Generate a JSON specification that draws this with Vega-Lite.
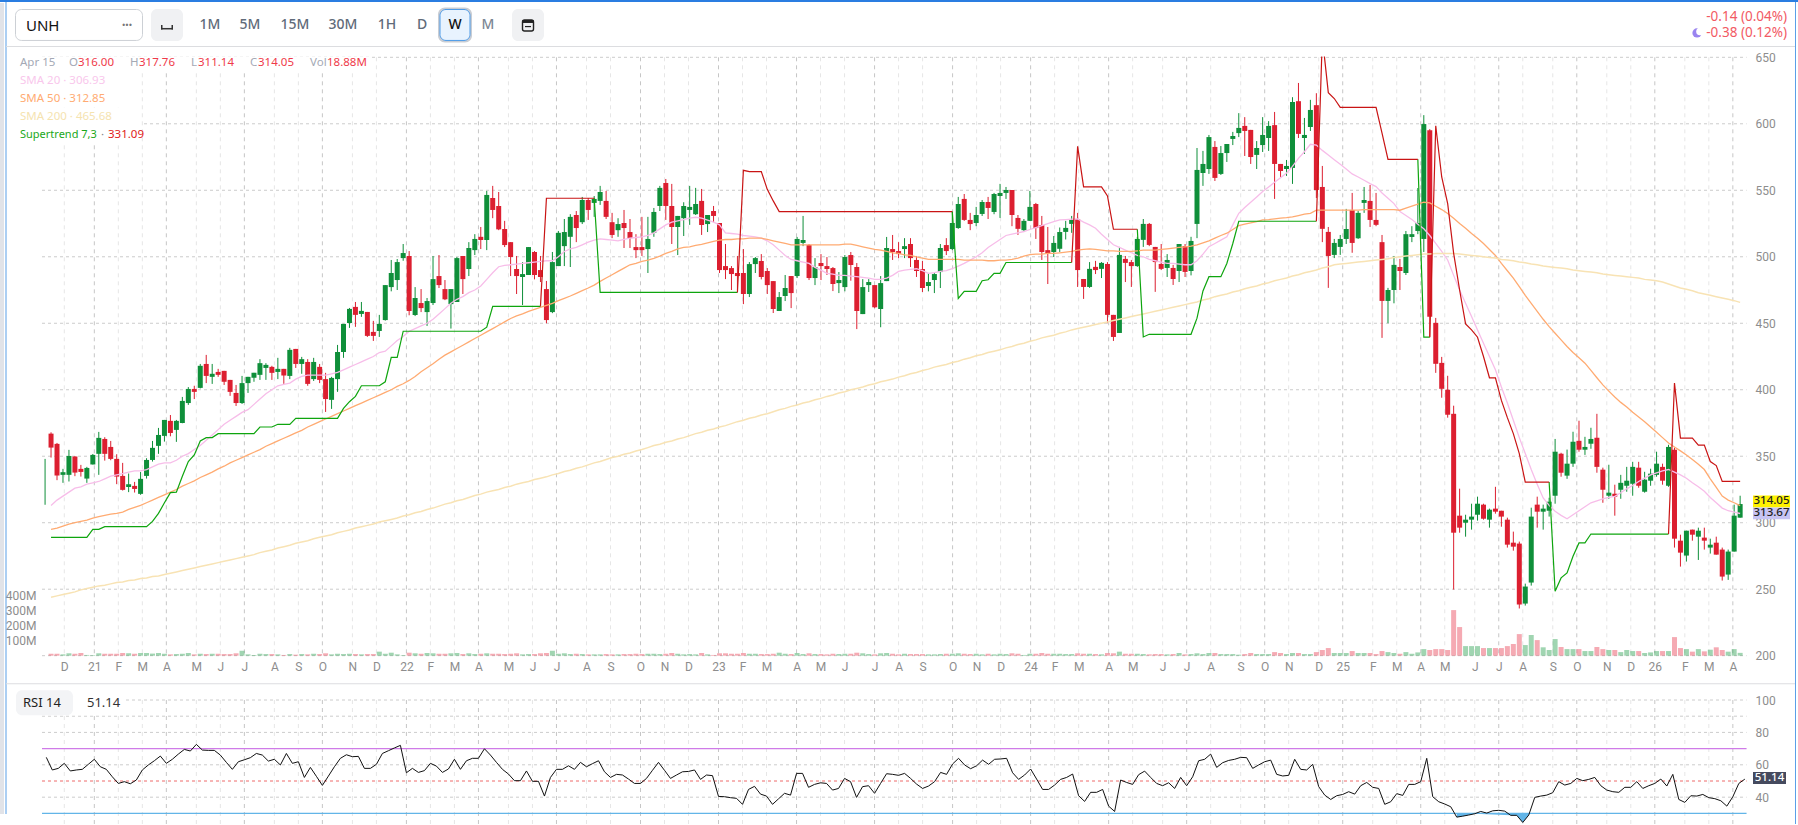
{"$schema":"https://vega.github.io/schema/vega-lite/v6.json","autosize":{"type":"fit","contains":"padding"},"padding":0,"width":1798,"height":825,"background":"#ffffff",
"config":{"view":{"stroke":null},"style":{
"lg":{"align":"left","baseline":"middle","font":"Noto Sans","fontSize":11.5},
"tool":{"align":"center","baseline":"middle","font":"Noto Sans","fontSize":14,"fontWeight":500},
"chg":{"align":"right","baseline":"middle","font":"Noto Sans","fontSize":13.5},
"tag":{"align":"center","baseline":"middle","font":"Noto Sans","fontSize":11.5,"fontWeight":500}}},
"datasets":{"one":[{}],
"prices":[{"p":200},{"p":250},{"p":300},{"p":350},{"p":400},{"p":450},{"p":500},{"p":550},{"p":600},{"p":650}],
"ticks":[{"d":"2020-11-30"},{"d":"2021-01-04"},{"d":"2021-02-01"},{"d":"2021-03-01"},{"d":"2021-03-29"},{"d":"2021-05-03"},{"d":"2021-05-31"},{"d":"2021-06-28"},{"d":"2021-08-02"},{"d":"2021-08-30"},{"d":"2021-09-27"},{"d":"2021-11-01"},{"d":"2021-11-29"},{"d":"2022-01-03"},{"d":"2022-01-31"},{"d":"2022-02-28"},{"d":"2022-03-28"},{"d":"2022-05-02"},{"d":"2022-05-30"},{"d":"2022-06-27"},{"d":"2022-08-01"},{"d":"2022-08-29"},{"d":"2022-10-03"},{"d":"2022-10-31"},{"d":"2022-11-28"},{"d":"2023-01-02"},{"d":"2023-01-30"},{"d":"2023-02-27"},{"d":"2023-04-03"},{"d":"2023-05-01"},{"d":"2023-05-29"},{"d":"2023-07-03"},{"d":"2023-07-31"},{"d":"2023-08-28"},{"d":"2023-10-02"},{"d":"2023-10-30"},{"d":"2023-11-27"},{"d":"2024-01-01"},{"d":"2024-01-29"},{"d":"2024-02-26"},{"d":"2024-04-01"},{"d":"2024-04-29"},{"d":"2024-06-03"},{"d":"2024-07-01"},{"d":"2024-07-29"},{"d":"2024-09-02"},{"d":"2024-09-30"},{"d":"2024-10-28"},{"d":"2024-12-02"},{"d":"2024-12-30"},{"d":"2025-02-03"},{"d":"2025-03-03"},{"d":"2025-03-31"},{"d":"2025-04-28"},{"d":"2025-06-02"},{"d":"2025-06-30"},{"d":"2025-07-28"},{"d":"2025-09-01"},{"d":"2025-09-29"},{"d":"2025-11-03"},{"d":"2025-12-01"},{"d":"2025-12-29"},{"d":"2026-02-02"},{"d":"2026-03-02"},{"d":"2026-03-30"}],
"weeks":[{"d":"2020-11-02","h":348,"l":313.5},
{"d":"2020-11-09","o":367,"h":368,"l":349,"c":356.5,"v":13,"a":313,"b":295,"e":244,"up":289,"r":64.6},
{"d":"2020-11-16","o":359.3,"h":360,"l":332,"c":335.5,"v":13,"a":317,"b":296,"e":245,"up":289,"r":56.8},
{"d":"2020-11-23","o":336,"h":340.5,"l":330,"c":338,"v":9,"a":320,"b":297.5,"e":246,"up":289,"r":57.8},
{"d":"2020-11-30","o":336,"h":354.8,"l":331,"c":350.2,"v":16,"a":323,"b":299,"e":247,"up":289,"r":60.9},
{"d":"2020-12-07","o":349.8,"h":350,"l":335,"c":337.7,"v":13,"a":326,"b":300,"e":248,"up":289,"r":56.2},
{"d":"2020-12-14","o":340.5,"h":343.5,"l":334.7,"c":338.2,"v":18,"a":327,"b":301,"e":249.5,"up":289,"r":56.8},
{"d":"2020-12-21","o":333.2,"h":342,"l":330,"c":341.2,"v":5,"a":329,"b":302,"e":250.5,"up":289,"r":57.2},
{"d":"2020-12-28","o":343.8,"h":351.7,"l":343.8,"c":351,"v":4,"a":330,"b":303.5,"e":251.5,"up":295,"r":60.3},
{"d":"2021-01-04","o":351.8,"h":368.3,"l":336,"c":363.8,"v":16,"a":331,"b":304.6,"e":252.5,"up":295,"r":63.4},
{"d":"2021-01-11","o":363,"h":364.3,"l":346.7,"c":351.8,"v":13,"a":333,"b":305.5,"e":253,"up":297,"r":58.8},
{"d":"2021-01-18","o":357,"h":361.5,"l":347,"c":348,"v":13,"a":335,"b":306.5,"e":254,"up":297,"r":57.2},
{"d":"2021-01-25","o":348,"h":351.5,"l":329,"c":334.7,"v":13,"a":336,"b":307,"e":255,"up":297,"r":52.6},
{"d":"2021-02-01","o":335.2,"h":345,"l":324.2,"c":324.7,"v":18,"a":337,"b":308,"e":255.5,"up":297,"r":48.5},
{"d":"2021-02-08","o":326.9,"h":337,"l":323,"c":329,"v":16,"a":338,"b":310,"e":256.5,"up":297,"r":49.6},
{"d":"2021-02-15","o":327.7,"h":330.7,"l":322.7,"c":325.4,"v":13,"a":339,"b":311.5,"e":257,"up":297,"r":48.3},
{"d":"2021-02-22","o":321.7,"h":338.2,"l":321,"c":333,"v":18,"a":339,"b":313,"e":258,"up":297,"r":50.6},
{"d":"2021-03-01","o":335.2,"h":348.5,"l":333.2,"c":347.2,"v":18,"a":340,"b":315,"e":258.5,"up":297,"r":56.8},
{"d":"2021-03-08","o":347.2,"h":361.5,"l":346,"c":356.3,"v":14,"a":342,"b":317,"e":259.5,"up":301,"r":59.9},
{"d":"2021-03-15","o":357.8,"h":371.3,"l":351.8,"c":366,"v":18,"a":344,"b":319,"e":260,"up":307,"r":62.5},
{"d":"2021-03-22","o":365.3,"h":377.3,"l":361,"c":377.3,"v":13,"a":345,"b":321,"e":261,"up":315,"r":65.4},
{"d":"2021-03-29","o":376.6,"h":381,"l":365,"c":367.5,"v":9,"a":345,"b":323,"e":262,"up":322.6,"r":60.9},
{"d":"2021-04-05","o":369.8,"h":377.3,"l":360.8,"c":376.6,"v":11,"a":347,"b":325,"e":263,"up":323,"r":63.4},
{"d":"2021-04-12","o":375,"h":394.6,"l":374.8,"c":391.6,"v":13,"a":350,"b":327.5,"e":264,"up":335,"r":66.6},
{"d":"2021-04-19","o":390,"h":402,"l":388.6,"c":400.6,"v":18,"a":352,"b":329.5,"e":265,"up":346,"r":69.5},
{"d":"2021-04-26","o":400.6,"h":403,"l":393,"c":398.4,"v":9,"a":355,"b":331.5,"e":266,"up":351,"r":68.5},
{"d":"2021-05-03","o":401.4,"h":419.4,"l":401,"c":418,"v":13,"a":358,"b":334,"e":267,"up":361.5,"r":72.6},
{"d":"2021-05-10","o":419.4,"h":426.2,"l":405,"c":410.4,"v":11,"a":362,"b":336,"e":268,"up":364,"r":69.1},
{"d":"2021-05-17","o":409.7,"h":419.4,"l":404.4,"c":412,"v":13,"a":366,"b":338,"e":269,"up":364,"r":68.9},
{"d":"2021-05-24","o":413.4,"h":415.7,"l":409.7,"c":411.2,"v":13,"a":370,"b":340.5,"e":270,"up":367,"r":68.9},
{"d":"2021-05-31","o":414.2,"h":414.2,"l":403.6,"c":406,"v":11,"a":374,"b":342.5,"e":271,"up":367,"r":66},
{"d":"2021-06-07","o":407.4,"h":407.4,"l":395.4,"c":398.4,"v":11,"a":377,"b":345,"e":272,"up":367,"r":61.5},
{"d":"2021-06-14","o":397.6,"h":403.6,"l":387.8,"c":390,"v":16,"a":380,"b":347,"e":273,"up":367,"r":57.2},
{"d":"2021-06-21","o":390,"h":410.4,"l":389.3,"c":405,"v":33,"a":383,"b":349,"e":274,"up":367,"r":61.9},
{"d":"2021-06-28","o":405,"h":409.7,"l":397.6,"c":409.7,"v":9,"a":385,"b":351,"e":275,"up":367,"r":63.1},
{"d":"2021-07-05","o":409,"h":412.7,"l":406,"c":412.7,"v":5,"a":389,"b":353,"e":276,"up":367,"r":64.4},
{"d":"2021-07-12","o":411.2,"h":423,"l":407.4,"c":420,"v":13,"a":393,"b":355,"e":277.5,"up":372,"r":67},
{"d":"2021-07-19","o":416.4,"h":420,"l":407.4,"c":418.7,"v":11,"a":397,"b":357.5,"e":278.5,"up":372,"r":66},
{"d":"2021-07-26","o":417.2,"h":418,"l":407.4,"c":412.7,"v":11,"a":400,"b":359.5,"e":279.5,"up":372,"r":62.3},
{"d":"2021-08-02","o":413.4,"h":424,"l":408,"c":415.7,"v":9,"a":403,"b":361.5,"e":281,"up":374,"r":63.4},
{"d":"2021-08-09","o":415.7,"h":415.7,"l":404.4,"c":410.7,"v":5,"a":404,"b":363.5,"e":282,"up":374,"r":59.9},
{"d":"2021-08-16","o":410.4,"h":431.5,"l":408,"c":430,"v":11,"a":405,"b":365.5,"e":283,"up":374,"r":67},
{"d":"2021-08-23","o":430.7,"h":430.7,"l":416.4,"c":419.4,"v":7,"a":408,"b":367.5,"e":284.5,"up":378.5,"r":60.9},
{"d":"2021-08-30","o":419.4,"h":424.7,"l":412,"c":423,"v":11,"a":410,"b":369.5,"e":285.5,"up":378.5,"r":61.9},
{"d":"2021-09-06","o":420.9,"h":423,"l":403,"c":404.4,"v":9,"a":411,"b":372,"e":286.5,"up":378.5,"r":52.2},
{"d":"2021-09-13","o":408,"h":424,"l":406.6,"c":420.9,"v":13,"a":411,"b":374,"e":288,"up":378.5,"r":58.4},
{"d":"2021-09-20","o":417.2,"h":419.4,"l":405,"c":407.4,"v":11,"a":411,"b":376,"e":289,"up":378.5,"r":52.9},
{"d":"2021-09-27","o":408,"h":412.7,"l":383.3,"c":393,"v":16,"a":411,"b":378,"e":290,"up":378.5,"r":47.3},
{"d":"2021-10-04","o":392.4,"h":409.7,"l":385.6,"c":408.9,"v":9,"a":412,"b":380,"e":291,"up":378.5,"r":53},
{"d":"2021-10-11","o":408,"h":433.7,"l":398.4,"c":428.4,"v":13,"a":413,"b":382,"e":292.5,"up":378.5,"r":58.8},
{"d":"2021-10-18","o":428.4,"h":449.5,"l":424,"c":449.5,"v":11,"a":415,"b":384,"e":293.5,"up":386,"r":64},
{"d":"2021-10-25","o":450.2,"h":461.5,"l":446.5,"c":460.8,"v":13,"a":417,"b":386,"e":294.5,"up":391,"r":66.2},
{"d":"2021-11-01","o":462.3,"h":466,"l":447.3,"c":456.3,"v":11,"a":419,"b":388,"e":296,"up":395,"r":65},
{"d":"2021-11-08","o":457,"h":466,"l":454.8,"c":459.3,"v":9,"a":421,"b":390,"e":297,"up":403,"r":65.2},
{"d":"2021-11-15","o":458.5,"h":458.5,"l":439.7,"c":440.5,"v":11,"a":423,"b":392,"e":298,"up":403,"r":57.8},
{"d":"2021-11-22","o":443.5,"h":451.8,"l":436.7,"c":440.5,"v":11,"a":425,"b":394,"e":299,"up":403,"r":57.8},
{"d":"2021-11-29","o":444.2,"h":456.3,"l":439.7,"c":449.5,"v":27,"a":428,"b":396,"e":300.5,"up":403,"r":60.3},
{"d":"2021-12-06","o":452.4,"h":478.7,"l":452,"c":478.7,"v":13,"a":429,"b":398,"e":301.5,"up":406,"r":67},
{"d":"2021-12-13","o":477.2,"h":497.6,"l":474,"c":487.8,"v":20,"a":433,"b":400,"e":302.5,"up":424.4,"r":68.7},
{"d":"2021-12-20","o":482.5,"h":498.3,"l":475,"c":496,"v":9,"a":437,"b":402.5,"e":303.5,"up":424.4,"r":70.4},
{"d":"2021-12-27","o":499,"h":509.6,"l":497,"c":502.8,"v":4,"a":440,"b":404.5,"e":305,"up":444,"r":72},
{"d":"2022-01-03","o":500.6,"h":504.3,"l":456,"c":459.2,"v":20,"a":444,"b":407,"e":306,"up":444,"r":55.1},
{"d":"2022-01-10","o":456.2,"h":477.2,"l":455.4,"c":469,"v":16,"a":446,"b":410,"e":307.5,"up":444,"r":57.8},
{"d":"2022-01-17","o":465.2,"h":475.7,"l":458.4,"c":461.4,"v":13,"a":448,"b":413.5,"e":308.5,"up":444,"r":55.3},
{"d":"2022-01-24","o":458.4,"h":469,"l":448,"c":466.7,"v":18,"a":450,"b":416.5,"e":310,"up":444,"r":56.4},
{"d":"2022-01-31","o":465.2,"h":500.6,"l":463.7,"c":483.2,"v":16,"a":453,"b":419.5,"e":311,"up":444,"r":60.9},
{"d":"2022-02-07","o":485.5,"h":501.3,"l":476.5,"c":478.7,"v":13,"a":457,"b":423,"e":312.5,"up":444,"r":59.2},
{"d":"2022-02-14","o":475.7,"h":482.5,"l":467.4,"c":468,"v":13,"a":461,"b":426,"e":314,"up":444,"r":55.3},
{"d":"2022-02-21","o":464.4,"h":475.7,"l":446,"c":475.7,"v":16,"a":465,"b":428.5,"e":315,"up":444,"r":57.4},
{"d":"2022-02-28","o":466,"h":499.8,"l":466,"c":499,"v":18,"a":468,"b":431,"e":316.5,"up":444,"r":63.4},
{"d":"2022-03-07","o":500.6,"h":500.6,"l":472,"c":483.2,"v":11,"a":470,"b":433.5,"e":317.5,"up":444,"r":57.2},
{"d":"2022-03-14","o":490.8,"h":511,"l":485.5,"c":506.6,"v":16,"a":473,"b":436,"e":319,"up":444,"r":62.5},
{"d":"2022-03-21","o":505,"h":517,"l":501.3,"c":513.4,"v":11,"a":475,"b":438.5,"e":320.5,"up":444,"r":64},
{"d":"2022-03-28","o":515,"h":522.4,"l":505.8,"c":512.6,"v":13,"a":478,"b":441,"e":321.5,"up":444,"r":64},
{"d":"2022-04-04","o":512.6,"h":549.5,"l":505,"c":546.5,"v":16,"a":483,"b":443.5,"e":323,"up":447,"r":69.9},
{"d":"2022-04-11","o":544.2,"h":553.3,"l":529,"c":535.2,"v":13,"a":488,"b":446,"e":324,"up":462.7,"r":66},
{"d":"2022-04-18","o":538.2,"h":548.7,"l":520,"c":520.6,"v":13,"a":492.5,"b":448.5,"e":325,"up":462.7,"r":61.5},
{"d":"2022-04-25","o":520.9,"h":527,"l":507.3,"c":508.8,"v":11,"a":493.5,"b":451,"e":326.5,"up":462.7,"r":57.2},
{"d":"2022-05-02","o":511,"h":511,"l":485.5,"c":499.8,"v":13,"a":494,"b":453.6,"e":327.5,"up":462.7,"r":54.3},
{"d":"2022-05-09","o":490.8,"h":500.6,"l":472,"c":485.5,"v":16,"a":494.5,"b":455.5,"e":329,"up":462.7,"r":50.2},
{"d":"2022-05-16","o":484.8,"h":496,"l":463.7,"c":487,"v":9,"a":495,"b":457,"e":330,"up":462.7,"r":50.2},
{"d":"2022-05-23","o":486.3,"h":507.3,"l":486.3,"c":507.3,"v":11,"a":495.5,"b":459,"e":331,"up":462.7,"r":56.2},
{"d":"2022-05-30","o":503.6,"h":504.3,"l":483,"c":486.3,"v":11,"a":496,"b":460.5,"e":332.5,"up":462.7,"r":49.8},
{"d":"2022-06-06","o":490,"h":500.6,"l":481,"c":484.8,"v":16,"a":496.5,"b":462,"e":333.5,"up":462.7,"dn":462.7,"r":49.8},
{"d":"2022-06-13","o":475.7,"h":481.8,"l":450,"c":452.4,"v":18,"a":497,"b":463.5,"e":334.5,"dn":544,"r":40.7},
{"d":"2022-06-20","o":458.4,"h":503.6,"l":457.6,"c":496,"v":33,"a":497,"b":465,"e":336,"dn":544,"r":52.2},
{"d":"2022-06-27","o":493,"h":519.4,"l":493,"c":518,"v":13,"a":500,"b":467,"e":337,"dn":544,"r":57.2},
{"d":"2022-07-04","o":508,"h":528.4,"l":493,"c":518.6,"v":16,"a":504,"b":468.7,"e":338.5,"dn":544,"r":57.2},
{"d":"2022-07-11","o":515,"h":532,"l":492.3,"c":530,"v":11,"a":506,"b":470.5,"e":339.5,"dn":544,"r":59.4},
{"d":"2022-07-18","o":531.4,"h":534.4,"l":511,"c":521.6,"v":13,"a":507,"b":472.5,"e":341,"dn":544,"r":57.2},
{"d":"2022-07-25","o":526,"h":545,"l":524.6,"c":542.7,"v":11,"a":509,"b":474.5,"e":342,"dn":544,"r":61.5},
{"d":"2022-08-01","o":542.7,"h":544.2,"l":527.7,"c":535.2,"v":9,"a":511,"b":476.5,"e":343.5,"dn":544,"r":58.8},
{"d":"2022-08-08","o":540.5,"h":545.7,"l":530,"c":543.5,"v":9,"a":512.5,"b":478.7,"e":345,"dn":544,"up":544,"r":60.7},
{"d":"2022-08-15","o":542,"h":553.3,"l":539,"c":548.7,"v":9,"a":513.5,"b":481.5,"e":346,"up":473.2,"r":62.5},
{"d":"2022-08-22","o":542,"h":549.5,"l":528.4,"c":530,"v":11,"a":513,"b":484,"e":347.5,"up":473.2,"r":55.7},
{"d":"2022-08-29","o":526,"h":533,"l":514,"c":516.4,"v":9,"a":512.5,"b":486.5,"e":349,"up":473.2,"r":52.2},
{"d":"2022-09-05","o":520,"h":529,"l":515,"c":524.6,"v":9,"a":512,"b":489,"e":350,"up":473.2,"r":54.1},
{"d":"2022-09-12","o":525.4,"h":535.2,"l":506.6,"c":521.6,"v":11,"a":513,"b":491.5,"e":351.5,"up":473.2,"r":53.7},
{"d":"2022-09-19","o":518.6,"h":528.4,"l":506.6,"c":514,"v":11,"a":514,"b":494,"e":352.5,"up":473.2,"r":51.2},
{"d":"2022-09-26","o":507.3,"h":517,"l":499,"c":505,"v":13,"a":514.5,"b":495,"e":354,"up":473.2,"r":48.5},
{"d":"2022-10-03","o":507.3,"h":530,"l":500.6,"c":505,"v":11,"a":515,"b":496.5,"e":355,"up":473.2,"r":48.5},
{"d":"2022-10-10","o":505.8,"h":530,"l":487.8,"c":513.4,"v":13,"a":516,"b":497.5,"e":356.5,"up":473.2,"r":51.6},
{"d":"2022-10-17","o":518,"h":536.7,"l":515,"c":533.7,"v":13,"a":518,"b":498.8,"e":358,"up":473.2,"r":56.6},
{"d":"2022-10-24","o":538.2,"h":553.3,"l":534.4,"c":551.8,"v":11,"a":521,"b":500.5,"e":359,"up":473.2,"r":61.5},
{"d":"2022-10-31","o":555.5,"h":558.5,"l":527.7,"c":538.2,"v":13,"a":524,"b":502.5,"e":360.5,"up":473.2,"r":56.6},
{"d":"2022-11-07","o":538.2,"h":554.8,"l":509.6,"c":522.4,"v":18,"a":526,"b":504,"e":361.5,"up":473.2,"r":51.6},
{"d":"2022-11-14","o":522.4,"h":530.7,"l":501.3,"c":530.7,"v":13,"a":527,"b":506,"e":363,"up":473.2,"r":53.7},
{"d":"2022-11-21","o":529,"h":541,"l":515.6,"c":538.2,"v":9,"a":528,"b":507,"e":364,"up":473.2,"r":55.7},
{"d":"2022-11-28","o":535.2,"h":553.3,"l":524,"c":537.5,"v":11,"a":529,"b":507.5,"e":365.5,"up":473.2,"r":55.9},
{"d":"2022-12-05","o":532,"h":551.8,"l":531.4,"c":539.7,"v":9,"a":529.7,"b":508.5,"e":367,"up":473.2,"r":56.8},
{"d":"2022-12-12","o":542,"h":551,"l":516.4,"c":523.9,"v":18,"a":529,"b":509.3,"e":368,"up":473.2,"r":51},
{"d":"2022-12-19","o":524.6,"h":531.4,"l":518.6,"c":531.4,"v":9,"a":527.5,"b":510.5,"e":369.5,"up":473.2,"r":53.7},
{"d":"2022-12-26","o":534.4,"h":538.2,"l":526,"c":530.7,"v":5,"a":526,"b":511.5,"e":370.5,"up":473.2,"r":53.3},
{"d":"2023-01-02","o":525.4,"h":525.4,"l":487.8,"c":490,"v":16,"a":524,"b":512.5,"e":372,"up":473.2,"r":40.5},
{"d":"2023-01-09","o":493,"h":509.6,"l":483.2,"c":490,"v":16,"a":518,"b":513,"e":373,"up":473.2,"r":40.3},
{"d":"2023-01-16","o":491.5,"h":493,"l":475,"c":487,"v":13,"a":517.5,"b":513,"e":374.5,"up":473.2,"r":39.7},
{"d":"2023-01-23","o":487.8,"h":500.6,"l":475,"c":485.5,"v":13,"a":517,"b":513.5,"e":376,"up":473.2,"dn":473.2,"r":39.3},
{"d":"2023-01-30","o":487.8,"h":505.8,"l":464.4,"c":472,"v":18,"a":516,"b":513.5,"e":377,"dn":565,"r":35.6},
{"d":"2023-02-06","o":472,"h":496,"l":469.7,"c":494.5,"v":13,"a":515.5,"b":514,"e":378.5,"dn":564,"r":44.8},
{"d":"2023-02-13","o":494.5,"h":499.8,"l":487.8,"c":499,"v":13,"a":515,"b":514,"e":379.5,"dn":564,"r":46.7},
{"d":"2023-02-20","o":496.8,"h":502,"l":483,"c":484.8,"v":11,"a":514,"b":514,"e":381,"dn":564,"r":41.9},
{"d":"2023-02-27","o":489.3,"h":491.5,"l":472,"c":478.7,"v":11,"a":512,"b":513,"e":382,"dn":550.7,"r":40.7},
{"d":"2023-03-06","o":481.7,"h":481.7,"l":457.7,"c":460.7,"v":13,"a":509,"b":512,"e":383.5,"dn":542,"r":35.6},
{"d":"2023-03-13","o":459.2,"h":473.5,"l":459.2,"c":469.7,"v":20,"a":505,"b":511,"e":385,"dn":534,"r":39},
{"d":"2023-03-20","o":470.5,"h":486.3,"l":466.7,"c":476.5,"v":13,"a":501,"b":510,"e":386,"dn":534,"r":42.4},
{"d":"2023-03-27","o":485.5,"h":485.5,"l":461.4,"c":472.7,"v":11,"a":498,"b":509,"e":387.5,"dn":534,"r":41.3},
{"d":"2023-04-03","o":485.5,"h":514.9,"l":484,"c":513.4,"v":18,"a":497,"b":509,"e":388.5,"dn":534,"r":54.7},
{"d":"2023-04-10","o":510.4,"h":530.7,"l":508,"c":512.6,"v":11,"a":496,"b":509,"e":390,"dn":534,"r":54.7},
{"d":"2023-04-17","o":508.8,"h":509.6,"l":482.5,"c":484,"v":16,"a":495,"b":509,"e":391,"dn":534,"r":46.1},
{"d":"2023-04-24","o":484,"h":499,"l":478.7,"c":492.3,"v":11,"a":492,"b":509,"e":392.5,"dn":534,"r":47.9},
{"d":"2023-05-01","o":495.3,"h":502,"l":482.5,"c":493,"v":11,"a":490,"b":509,"e":393.5,"dn":534,"r":48.9},
{"d":"2023-05-08","o":493,"h":499.8,"l":486.3,"c":490.8,"v":9,"a":487.5,"b":509,"e":395,"dn":534,"r":48.5},
{"d":"2023-05-15","o":491.5,"h":492.3,"l":474.2,"c":479.5,"v":13,"a":487,"b":509,"e":396,"dn":534,"r":44.4},
{"d":"2023-05-22","o":480.2,"h":488.5,"l":472.7,"c":482.5,"v":11,"a":486,"b":509,"e":397.5,"dn":534,"r":45.4},
{"d":"2023-05-29","o":477.2,"h":501.3,"l":474,"c":499.8,"v":13,"a":486,"b":509.5,"e":398.5,"dn":534,"r":51.6},
{"d":"2023-06-05","o":501.3,"h":503.6,"l":482,"c":493.8,"v":13,"a":485.5,"b":509.5,"e":400,"dn":534,"r":49.6},
{"d":"2023-06-12","o":492.3,"h":495.3,"l":445.6,"c":459.2,"v":20,"a":485,"b":508.5,"e":401,"dn":534,"r":39.9},
{"d":"2023-06-19","o":456.9,"h":483.2,"l":456.9,"c":477.2,"v":16,"a":484.5,"b":507.5,"e":402,"dn":534,"r":46.5},
{"d":"2023-06-26","o":478.7,"h":483.2,"l":473.5,"c":481,"v":11,"a":484,"b":506.5,"e":403.5,"dn":534,"r":47.1},
{"d":"2023-07-03","o":478.7,"h":478.7,"l":461.4,"c":462,"v":9,"a":483,"b":505.5,"e":404.5,"dn":534,"r":42.4},
{"d":"2023-07-10","o":460.7,"h":485.5,"l":447,"c":480.2,"v":16,"a":483,"b":505,"e":406,"dn":534,"r":48.5},
{"d":"2023-07-17","o":481.7,"h":514.9,"l":481.7,"c":506.6,"v":18,"a":484,"b":504,"e":407,"dn":534,"r":54.5},
{"d":"2023-07-24","o":505.8,"h":516.4,"l":497.6,"c":503.6,"v":13,"a":486,"b":503,"e":408,"dn":534,"r":54.1},
{"d":"2023-07-31","o":504.3,"h":511,"l":499,"c":502,"v":9,"a":489,"b":502.5,"e":409.5,"dn":534,"r":53.5},
{"d":"2023-08-07","o":505.8,"h":514,"l":499,"c":508,"v":13,"a":490,"b":501.5,"e":410.5,"dn":534,"r":54.7},
{"d":"2023-08-14","o":509.6,"h":514,"l":492.3,"c":499,"v":11,"a":490.5,"b":501,"e":412,"dn":534,"r":51.6},
{"d":"2023-08-21","o":497.6,"h":500.6,"l":484.8,"c":489.3,"v":11,"a":491,"b":500,"e":413,"dn":534,"r":48.1},
{"d":"2023-08-28","o":490.8,"h":496.8,"l":473.5,"c":476.5,"v":11,"a":489.5,"b":499,"e":414.5,"dn":534,"r":45.4},
{"d":"2023-09-04","o":478,"h":487.8,"l":474,"c":481,"v":9,"a":487.5,"b":498,"e":415.5,"dn":534,"r":46.9},
{"d":"2023-09-11","o":482.5,"h":487.8,"l":472.7,"c":487,"v":9,"a":488,"b":498,"e":417,"dn":534,"r":49.6},
{"d":"2023-09-18","o":488.5,"h":509.6,"l":476.5,"c":506.6,"v":11,"a":489,"b":498,"e":418,"dn":534,"r":55.3},
{"d":"2023-09-25","o":508.8,"h":514,"l":501.3,"c":504.3,"v":13,"a":489.5,"b":498,"e":419,"dn":534,"r":54.1},
{"d":"2023-10-02","o":505.8,"h":533.7,"l":505,"c":525.4,"v":13,"a":491,"b":498,"e":420.5,"dn":534,"up":534,"r":60.5},
{"d":"2023-10-09","o":521.6,"h":545,"l":521,"c":539.7,"v":16,"a":493,"b":498,"e":421.5,"up":468.7,"r":64},
{"d":"2023-10-16","o":543.5,"h":547.2,"l":527,"c":527.7,"v":13,"a":495,"b":497.5,"e":423,"up":474,"r":59.9},
{"d":"2023-10-23","o":527.7,"h":533,"l":520,"c":524.6,"v":11,"a":497.5,"b":497.5,"e":424,"up":474,"r":57.6},
{"d":"2023-10-30","o":525.4,"h":537.5,"l":523,"c":531.4,"v":13,"a":500,"b":497.5,"e":425.5,"up":474,"r":59.4},
{"d":"2023-11-06","o":532.2,"h":542.7,"l":530.7,"c":541.2,"v":9,"a":503,"b":497.5,"e":426.5,"up":482,"r":62.9},
{"d":"2023-11-13","o":541.2,"h":545,"l":528.4,"c":536.7,"v":13,"a":507,"b":497,"e":428,"up":482.7,"r":60.3},
{"d":"2023-11-20","o":533.7,"h":548,"l":532,"c":547.2,"v":9,"a":510,"b":497,"e":429,"up":487.5,"r":63.4},
{"d":"2023-11-27","o":545.7,"h":554.8,"l":529.2,"c":548,"v":13,"a":513,"b":497.5,"e":430,"up":487.5,"r":63.6},
{"d":"2023-12-04","o":548,"h":552.5,"l":543.5,"c":550.2,"v":11,"a":516,"b":497.5,"e":431.5,"up":495.7,"r":64},
{"d":"2023-12-11","o":550.2,"h":550.2,"l":523,"c":531.4,"v":16,"a":517,"b":498,"e":432.5,"up":495.7,"r":55.1},
{"d":"2023-12-18","o":529.2,"h":531.4,"l":516.4,"c":521,"v":13,"a":518,"b":499,"e":434,"up":495.7,"r":51},
{"d":"2023-12-25","o":520,"h":528.4,"l":518.6,"c":527,"v":5,"a":519,"b":500.5,"e":435,"up":495.7,"r":53.7},
{"d":"2024-01-01","o":527,"h":549.5,"l":527,"c":537.5,"v":13,"a":520.5,"b":501.6,"e":436.5,"up":495.7,"r":57.4},
{"d":"2024-01-08","o":539.7,"h":540.5,"l":513.4,"c":521.6,"v":13,"a":522,"b":502,"e":437.5,"up":495.7,"r":51.2},
{"d":"2024-01-15","o":523.9,"h":530.7,"l":497.6,"c":503.6,"v":18,"a":523.5,"b":502,"e":439,"up":495.7,"r":44.8},
{"d":"2024-01-22","o":505,"h":522.4,"l":479.5,"c":502.8,"v":13,"a":525,"b":502.5,"e":440,"up":495.7,"r":44.8},
{"d":"2024-01-29","o":503.6,"h":515.6,"l":499.8,"c":510.4,"v":13,"a":526.5,"b":502.5,"e":441,"up":495.7,"r":47.5},
{"d":"2024-02-05","o":506,"h":522,"l":503.6,"c":518.6,"v":13,"a":527.7,"b":503,"e":442.5,"up":495.7,"r":51},
{"d":"2024-02-12","o":518.7,"h":527,"l":513,"c":521.7,"v":11,"a":528,"b":503.5,"e":443.5,"up":495.7,"r":52.2},
{"d":"2024-02-19","o":524.7,"h":530.7,"l":518,"c":527.7,"v":11,"a":528.3,"b":504,"e":445,"up":495.7,"dn":495.7,"r":54.3},
{"d":"2024-02-26","o":528.4,"h":533,"l":477.3,"c":490,"v":16,"a":528.4,"b":505,"e":446,"dn":583,"r":40.9},
{"d":"2024-03-04","o":483.3,"h":483.3,"l":468.3,"c":477.3,"v":13,"a":526,"b":505.5,"e":447,"dn":552.5,"r":37.4},
{"d":"2024-03-11","o":477.3,"h":496,"l":476.6,"c":490.9,"v":13,"a":524,"b":506,"e":448,"dn":552.5,"r":43},
{"d":"2024-03-18","o":492.4,"h":496.9,"l":487,"c":490,"v":11,"a":521.4,"b":505.5,"e":449,"dn":552.5,"r":43},
{"d":"2024-03-25","o":490.9,"h":496,"l":484,"c":495.4,"v":9,"a":517,"b":505,"e":450,"dn":552.5,"r":44.8},
{"d":"2024-04-01","o":494.6,"h":496,"l":450,"c":456.3,"v":18,"a":513,"b":504.5,"e":451,"dn":545.7,"r":34.5},
{"d":"2024-04-08","o":456.3,"h":456.3,"l":436.7,"c":439.7,"v":16,"a":509,"b":504.5,"e":452,"dn":520.7,"r":31.2},
{"d":"2024-04-15","o":442.7,"h":507.4,"l":442.7,"c":501.4,"v":27,"a":507,"b":504,"e":453,"dn":520.7,"r":50.6},
{"d":"2024-04-22","o":498.4,"h":500.6,"l":481,"c":495.4,"v":13,"a":505,"b":504,"e":454,"dn":520.7,"r":49.1},
{"d":"2024-04-29","o":496,"h":497.6,"l":477.3,"c":493,"v":13,"a":503,"b":504,"e":455,"dn":520.7,"r":47.9},
{"d":"2024-05-06","o":493,"h":515,"l":492.4,"c":513.4,"v":13,"a":501,"b":504.5,"e":456,"dn":520.7,"up":520.7,"r":53.9},
{"d":"2024-05-13","o":512.7,"h":528.4,"l":507.4,"c":524.7,"v":11,"a":500,"b":505,"e":457,"up":439.7,"r":56.1},
{"d":"2024-05-20","o":524.7,"h":525.4,"l":508,"c":508.9,"v":9,"a":498,"b":505,"e":458,"up":441.7,"r":52.2},
{"d":"2024-05-27","o":507.4,"h":507.4,"l":473.6,"c":496,"v":11,"a":497,"b":505,"e":459,"up":441.7,"r":48.5},
{"d":"2024-06-03","o":494.6,"h":509.6,"l":490,"c":490.9,"v":11,"a":496,"b":505.5,"e":460,"up":441.7,"r":47.1},
{"d":"2024-06-10","o":491.6,"h":502,"l":484.8,"c":497.6,"v":9,"a":495,"b":506,"e":461,"up":441.7,"r":48.9},
{"d":"2024-06-17","o":491.6,"h":493.9,"l":478.8,"c":483.3,"v":11,"a":495,"b":506.5,"e":462,"up":441.7,"r":45.4},
{"d":"2024-06-24","o":489.3,"h":509.6,"l":481,"c":509.6,"v":18,"a":494.5,"b":507,"e":463,"up":441.7,"r":52.2},
{"d":"2024-07-01","o":508.1,"h":509.6,"l":484.8,"c":488.6,"v":9,"a":494,"b":507.5,"e":464,"up":441.7,"r":47.1},
{"d":"2024-07-08","o":489.3,"h":515,"l":486,"c":511.9,"v":11,"a":494,"b":508,"e":465,"up":441.7,"r":52.6},
{"d":"2024-07-15","o":524.7,"h":581.8,"l":514,"c":565.3,"v":16,"a":497,"b":509,"e":466,"up":453.8,"r":62.5},
{"d":"2024-07-22","o":563,"h":579.6,"l":553.3,"c":569.8,"v":11,"a":502,"b":510.5,"e":467.5,"up":474.3,"r":63.4},
{"d":"2024-07-29","o":566,"h":591.6,"l":562.3,"c":590,"v":18,"a":507.6,"b":512,"e":468.5,"up":485,"r":66.6},
{"d":"2024-08-05","o":582.6,"h":587,"l":557,"c":559.3,"v":18,"a":510,"b":514,"e":470,"up":485,"r":58.4},
{"d":"2024-08-12","o":562.3,"h":583.3,"l":561.5,"c":578,"v":11,"a":512.5,"b":516,"e":471,"up":485,"r":61.3},
{"d":"2024-08-19","o":578,"h":584.8,"l":571.3,"c":584.8,"v":11,"a":515,"b":517.7,"e":472,"up":495,"r":62.7},
{"d":"2024-08-26","o":588.6,"h":593.9,"l":584,"c":590.8,"v":11,"a":524,"b":520.5,"e":473.5,"up":510,"r":63.4},
{"d":"2024-09-02","o":593,"h":608,"l":590,"c":596.9,"v":7,"a":532.7,"b":523.4,"e":474.5,"up":526.7,"r":64.6},
{"d":"2024-09-09","o":598.4,"h":605,"l":575.8,"c":594.6,"v":11,"a":537,"b":524.5,"e":476,"up":526.7,"r":64.4},
{"d":"2024-09-16","o":595.4,"h":595.4,"l":569.8,"c":575,"v":18,"a":541,"b":525.5,"e":477,"up":526.7,"r":57.8},
{"d":"2024-09-23","o":576.6,"h":587,"l":566,"c":581.8,"v":11,"a":545,"b":526.5,"e":478,"up":526.7,"r":59.9},
{"d":"2024-09-30","o":584,"h":605,"l":578.8,"c":591.6,"v":11,"a":549,"b":527.7,"e":479.5,"up":526.7,"r":61.9},
{"d":"2024-10-07","o":589.3,"h":602,"l":579.6,"c":598.4,"v":11,"a":552.5,"b":528,"e":480.5,"up":526.7,"r":62.9},
{"d":"2024-10-14","o":599,"h":608.9,"l":543.5,"c":569.8,"v":24,"a":556,"b":528.5,"e":482,"up":526.7,"r":54.1},
{"d":"2024-10-21","o":569.8,"h":569.8,"l":560,"c":564.5,"v":18,"a":559.5,"b":529,"e":483,"up":526.7,"r":53.1},
{"d":"2024-10-28","o":566,"h":572.8,"l":560.8,"c":568.3,"v":11,"a":563,"b":529.4,"e":484,"up":526.7,"r":53.5},
{"d":"2024-11-04","o":566.8,"h":620,"l":554.8,"c":616.4,"v":18,"a":568,"b":530,"e":485.5,"up":526.7,"r":63.4},
{"d":"2024-11-11","o":617,"h":630.7,"l":589.3,"c":592.4,"v":18,"a":574,"b":531,"e":486.5,"up":526.7,"r":57.2},
{"d":"2024-11-18","o":589.3,"h":604.4,"l":577.3,"c":591.6,"v":11,"a":579,"b":532,"e":488,"up":526.7,"r":56.8},
{"d":"2024-11-25","o":597.6,"h":618,"l":594.6,"c":610.4,"v":11,"a":584.6,"b":532.7,"e":489,"up":526.7,"r":60.3},
{"d":"2024-12-02","o":614,"h":623,"l":544.2,"c":550.2,"v":24,"a":584,"b":535,"e":490,"up":526.7,"dn":526.7,"r":46.5},
{"d":"2024-12-09","o":552.5,"h":568.3,"l":511,"c":521,"v":38,"a":580,"b":535,"e":491.5,"dn":665,"r":41.3},
{"d":"2024-12-16","o":518.7,"h":522.4,"l":476.6,"c":500.6,"v":51,"a":576.6,"b":535,"e":492.5,"dn":623.4,"r":38.6},
{"d":"2024-12-23","o":501.4,"h":513.4,"l":499,"c":510.4,"v":18,"a":573,"b":535,"e":494,"dn":619,"r":40.9},
{"d":"2024-12-30","o":507.4,"h":516.4,"l":501.4,"c":513.4,"v":18,"a":569.5,"b":535,"e":494.5,"dn":612.4,"r":41.7},
{"d":"2025-01-06","o":513.4,"h":536,"l":509.6,"c":520.9,"v":18,"a":566,"b":535,"e":495,"dn":612.4,"r":43.4},
{"d":"2025-01-13","o":535.2,"h":548,"l":503,"c":510.4,"v":31,"a":562.3,"b":535,"e":495.5,"dn":612.4,"r":41.9},
{"d":"2025-01-20","o":513.9,"h":534.5,"l":513.4,"c":533,"v":18,"a":560,"b":535,"e":496,"dn":612.4,"r":47.1},
{"d":"2025-01-27","o":540.5,"h":552.5,"l":533,"c":542.7,"v":18,"a":557.5,"b":535.5,"e":496.5,"dn":612.4,"r":49.1},
{"d":"2025-02-03","o":542,"h":554,"l":522.4,"c":527.7,"v":18,"a":555,"b":535.5,"e":497,"dn":612.4,"r":46.1},
{"d":"2025-02-10","o":527.7,"h":548,"l":523,"c":524,"v":11,"a":552.8,"b":535.5,"e":497.5,"dn":612.4,"r":45.4},
{"d":"2025-02-17","o":511,"h":516.4,"l":439,"c":466.8,"v":31,"a":548,"b":535.5,"e":498,"dn":593,"r":35.6},
{"d":"2025-02-24","o":466.8,"h":476.6,"l":450,"c":475,"v":24,"a":544,"b":535.5,"e":498.5,"dn":573.3,"r":37.2},
{"d":"2025-03-03","o":475,"h":500.6,"l":465,"c":493.9,"v":18,"a":540,"b":535.5,"e":499.5,"dn":573.3,"r":42.2},
{"d":"2025-03-10","o":492.3,"h":498.4,"l":475,"c":489.3,"v":13,"a":534,"b":535,"e":500,"dn":573.3,"r":41.1},
{"d":"2025-03-17","o":487.8,"h":519.4,"l":486.3,"c":517,"v":24,"a":531,"b":536.5,"e":500.5,"dn":573.3,"r":47.9},
{"d":"2025-03-24","o":514.9,"h":523,"l":511,"c":517,"v":13,"a":528,"b":538,"e":501,"dn":573.3,"r":47.9},
{"d":"2025-03-31","o":519.4,"h":551.7,"l":517,"c":525.4,"v":22,"a":524.5,"b":539.5,"e":501.5,"dn":573.3,"up":573.3,"r":49.6},
{"d":"2025-04-07","o":513.4,"h":606.5,"l":503.6,"c":599.8,"v":44,"a":521,"b":541,"e":502,"up":439.5,"r":64},
{"d":"2025-04-14","o":595.2,"h":596,"l":439.8,"c":454.8,"v":38,"a":516,"b":540.5,"e":502,"up":439.5,"dn":439.5,"r":40.3},
{"d":"2025-04-21","o":450.3,"h":454,"l":412.7,"c":419.5,"v":44,"a":510,"b":538,"e":502.5,"dn":598.5,"r":37.2},
{"d":"2025-04-28","o":420.2,"h":424.7,"l":394,"c":400.7,"v":44,"a":504,"b":535.5,"e":502.5,"dn":560,"r":35.8},
{"d":"2025-05-05","o":400,"h":410.5,"l":379,"c":381.2,"v":38,"a":497.6,"b":532.6,"e":502.5,"dn":540,"r":34.1},
{"d":"2025-05-12","o":381.9,"h":388,"l":249.7,"c":292.5,"v":304,"a":486,"b":529,"e":502.5,"dn":502.6,"r":27.7},
{"d":"2025-05-19","o":305.3,"h":325.6,"l":292.5,"c":296.3,"v":191,"a":475,"b":525,"e":502,"dn":475,"r":28.3},
{"d":"2025-05-26","o":300,"h":306,"l":289.5,"c":302.3,"v":64,"a":465,"b":521.5,"e":501.5,"dn":449.5,"r":29},
{"d":"2025-06-02","o":302.3,"h":314.3,"l":294.8,"c":304.6,"v":64,"a":455,"b":517.5,"e":501,"dn":445,"r":29.8},
{"d":"2025-06-09","o":306,"h":319.6,"l":301.6,"c":314.3,"v":64,"a":445,"b":514,"e":500.5,"dn":439.5,"r":31.2},
{"d":"2025-06-16","o":313.6,"h":314.3,"l":302.3,"c":303,"v":51,"a":435,"b":510,"e":500,"dn":425,"r":30.2},
{"d":"2025-06-23","o":302.3,"h":310.6,"l":296.3,"c":309.8,"v":51,"a":425,"b":505.5,"e":499.5,"dn":409,"r":31.6},
{"d":"2025-06-30","o":310.6,"h":327,"l":306.8,"c":308.3,"v":51,"a":415,"b":501,"e":499,"dn":409,"r":31.9},
{"d":"2025-07-07","o":309,"h":309,"l":297,"c":304.6,"v":51,"a":402,"b":495,"e":498,"dn":392,"r":31.4},
{"d":"2025-07-14","o":302.3,"h":303.8,"l":281.3,"c":283.5,"v":64,"a":390,"b":489.5,"e":497.5,"dn":379,"r":28.8},
{"d":"2025-07-21","o":285,"h":293.3,"l":279,"c":282,"v":78,"a":377,"b":484,"e":497,"dn":367,"r":28.8},
{"d":"2025-07-28","o":284.3,"h":285.8,"l":235.5,"c":238.5,"v":144,"a":364,"b":477.5,"e":496,"dn":352,"r":24.4},
{"d":"2025-08-04","o":239.2,"h":254.2,"l":237.7,"c":252,"v":71,"a":352,"b":471,"e":495.5,"dn":330.6,"r":29},
{"d":"2025-08-11","o":255,"h":311.3,"l":252.7,"c":304.6,"v":138,"a":340,"b":465,"e":494.5,"dn":330.6,"r":39.9},
{"d":"2025-08-18","o":313.6,"h":319.6,"l":296.3,"c":308.3,"v":104,"a":329,"b":459,"e":494,"dn":330.6,"r":40.7},
{"d":"2025-08-25","o":308.3,"h":313.6,"l":294.8,"c":310.6,"v":56,"a":318.6,"b":453,"e":493,"dn":330.6,"r":41.3},
{"d":"2025-09-01","o":309,"h":318.8,"l":304.6,"c":315.8,"v":38,"a":313,"b":447.5,"e":492.5,"dn":330.6,"up":330.6,"r":42.8},
{"d":"2025-09-08","o":320.3,"h":363,"l":314.3,"c":353.4,"v":111,"a":308.6,"b":442.5,"e":492,"up":248.5,"r":49.6},
{"d":"2025-09-15","o":351.9,"h":352.6,"l":334.6,"c":337.6,"v":58,"a":305.5,"b":437.5,"e":491.5,"up":258.5,"r":47.5},
{"d":"2025-09-22","o":335.4,"h":355,"l":333,"c":344.4,"v":44,"a":303,"b":432.5,"e":491,"up":262.2,"r":48.5},
{"d":"2025-09-29","o":344.4,"h":368.4,"l":342,"c":360.9,"v":44,"a":306,"b":428,"e":490,"up":274.8,"r":51.6},
{"d":"2025-10-06","o":361.6,"h":376.7,"l":353.4,"c":354.9,"v":44,"a":309,"b":424,"e":489.5,"up":284.8,"r":50.2},
{"d":"2025-10-13","o":354.9,"h":364.6,"l":351,"c":357,"v":31,"a":312,"b":420,"e":489,"up":284.8,"r":51},
{"d":"2025-10-20","o":359.4,"h":371.4,"l":355.6,"c":363,"v":31,"a":315,"b":414.5,"e":488.5,"up":291.5,"r":52.2},
{"d":"2025-10-27","o":363.9,"h":381.9,"l":337.6,"c":342,"v":58,"a":316.5,"b":409,"e":488,"up":291.5,"r":47.1},
{"d":"2025-11-03","o":339.9,"h":341.4,"l":315,"c":324.8,"v":44,"a":318,"b":403.7,"e":487,"up":291.5,"r":44.4},
{"d":"2025-11-10","o":320.3,"h":343.6,"l":318,"c":322.6,"v":38,"a":319,"b":399,"e":486.5,"up":291.5,"r":43.4},
{"d":"2025-11-17","o":321.8,"h":328.6,"l":305.3,"c":319.6,"v":38,"a":319.8,"b":394.5,"e":486,"up":291.5,"r":43},
{"d":"2025-11-24","o":324.8,"h":336,"l":318,"c":330,"v":24,"a":322.5,"b":390.5,"e":485.5,"up":291.5,"r":46.1},
{"d":"2025-12-01","o":327.8,"h":342,"l":323.3,"c":331.6,"v":38,"a":325.5,"b":387,"e":485,"up":291.5,"r":46.1},
{"d":"2025-12-08","o":329.3,"h":345.8,"l":320.3,"c":342,"v":31,"a":328,"b":383,"e":484.5,"up":291.5,"r":49.6},
{"d":"2025-12-15","o":341.4,"h":345.8,"l":326.3,"c":327.8,"v":31,"a":331,"b":379.5,"e":484,"up":291.5,"r":45.4},
{"d":"2025-12-22","o":323.3,"h":338.3,"l":322.6,"c":332.4,"v":18,"a":333.5,"b":376,"e":483,"up":291.5,"r":47.1},
{"d":"2025-12-29","o":331.6,"h":340.6,"l":327.8,"c":336.9,"v":22,"a":336,"b":372,"e":482.5,"up":291.5,"r":48.5},
{"d":"2026-01-05","o":336,"h":353.4,"l":334.6,"c":344.4,"v":31,"a":337.5,"b":368,"e":482,"up":291.5,"r":51.2},
{"d":"2026-01-12","o":342,"h":344.4,"l":328.6,"c":331.6,"v":31,"a":339,"b":364,"e":481,"up":291.5,"r":46.9},
{"d":"2026-01-19","o":327.8,"h":358.6,"l":327,"c":357,"v":31,"a":340,"b":360,"e":479.5,"up":291.5,"dn":291.5,"r":54.1},
{"d":"2026-01-26","o":354.9,"h":356.4,"l":281.3,"c":288,"v":124,"a":338,"b":357,"e":478,"dn":405,"r":38.6},
{"d":"2026-02-02","o":286.5,"h":291,"l":267,"c":277.5,"v":51,"a":336,"b":354,"e":476.5,"dn":363.6,"r":36.8},
{"d":"2026-02-09","o":275.3,"h":294,"l":270.8,"c":294,"v":44,"a":333.5,"b":351,"e":475.5,"dn":363.6,"r":40.9},
{"d":"2026-02-16","o":294.8,"h":294.8,"l":286.5,"c":291,"v":27,"a":330,"b":347.5,"e":474.5,"dn":363.6,"r":40.7},
{"d":"2026-02-23","o":289.5,"h":296.3,"l":272,"c":294,"v":44,"a":327,"b":344,"e":473,"dn":358.4,"r":41.7},
{"d":"2026-03-02","o":288.8,"h":296.3,"l":279.8,"c":286.5,"v":29,"a":323.6,"b":340,"e":472,"dn":358.4,"r":39.7},
{"d":"2026-03-09","o":281.3,"h":288,"l":276.8,"c":283.5,"v":40,"a":319,"b":333,"e":471,"dn":346,"r":39.1},
{"d":"2026-03-16","o":285,"h":289.5,"l":276,"c":276,"v":56,"a":315,"b":326.5,"e":470,"dn":343,"r":37.8},
{"d":"2026-03-23","o":279.8,"h":281.3,"l":256.5,"c":259.5,"v":38,"a":311,"b":320,"e":469,"dn":331.09,"r":34.5},
{"d":"2026-03-30","o":261,"h":279.8,"l":257,"c":278.3,"v":27,"a":309,"b":317,"e":468,"dn":331.09,"r":40.3},
{"d":"2026-04-06","o":278.3,"h":313.6,"l":278.3,"c":305.3,"v":44,"a":308,"b":315,"e":467,"dn":331.09,"r":48.5},
{"d":"2026-04-13","o":303.8,"h":320.3,"l":303.8,"c":314.05,"v":18.88,"a":306.93,"b":312.85,"e":465.68,"dn":331.09,"r":51.14}]},
"layer":[
{"data":{"name":"ticks"},"mark":{"type":"rule","strokeDash":[4,4],"strokeWidth":1},"encoding":{
"x":{"field":"d","type":"temporal","scale":{"domain":["2020-09-16","2026-06-14"],"nice":false},
"axis":{"title":null,"orient":"bottom","offset":-163,"labelPadding":0,"grid":false,"ticks":false,"domain":false,"labelFont":"Roboto","labelFontSize":12,"labelColor":"#8d8d8d","labelOverlap":false,"labelBound":false,"labelFlush":false,
"labelExpr":"utcmonth(time(datum.value)+345600000)==0?utcFormat(time(datum.value)+345600000,'%y'):slice(utcFormat(time(datum.value)+345600000,'%b'),0,1)",
"values":["2020-11-30","2021-01-04","2021-02-01","2021-03-01","2021-03-29","2021-05-03","2021-05-31","2021-06-28","2021-08-02","2021-08-30","2021-09-27","2021-11-01","2021-11-29","2022-01-03","2022-01-31","2022-02-28","2022-03-28","2022-05-02","2022-05-30","2022-06-27","2022-08-01","2022-08-29","2022-10-03","2022-10-31","2022-11-28","2023-01-02","2023-01-30","2023-02-27","2023-04-03","2023-05-01","2023-05-29","2023-07-03","2023-07-31","2023-08-28","2023-10-02","2023-10-30","2023-11-27","2024-01-01","2024-01-29","2024-02-26","2024-04-01","2024-04-29","2024-06-03","2024-07-01","2024-07-29","2024-09-02","2024-09-30","2024-10-28","2024-12-02","2024-12-30","2025-02-03","2025-03-03","2025-03-31","2025-04-28","2025-06-02","2025-06-30","2025-07-28","2025-09-01","2025-09-29","2025-11-03","2025-12-01","2025-12-29","2026-02-02","2026-03-02","2026-03-30"]}},
"y":{"datum":650,"scale":{"domain":[200,650],"range":[655.7,57.3],"nice":false,"zero":false},"axis":null},"y2":{"datum":200},"stroke":{"condition":{"test":"utcmonth(time(datum.d)+345600000)%3==0","value":"#c6c6c6"},"value":"#e6e6e6"}}},
{"data":{"name":"prices"},"mark":{"type":"rule","stroke":"#cccccc","strokeDash":[3,3],"strokeWidth":1},"encoding":{
"x":{"datum":{"year":2020,"month":"nov","date":4},"type":"temporal","axis":null,"scale":{"domain":["2020-09-16","2026-06-14"],"nice":false}},"x2":{"datum":{"year":2026,"month":"apr","date":15}},
"y":{"field":"p","type":"quantitative","scale":{"domain":[200,650],"range":[655.7,57.3],"nice":false,"zero":false},"axis":{"title":null,"orient":"right","values":[200,250,300,350,400,450,500,550,600,650],"labelPadding":-43,"grid":false,"ticks":false,"domain":false,"labelFont":"Roboto","labelFontSize":12,"labelColor":"#8d8d8d","labelBound":false,"labelFlush":false,"labelOverlap":false}}}},
{"data":{"name":"ticks"},"mark":{"type":"rule","strokeDash":[4,4],"strokeWidth":1},"encoding":{
"x":{"field":"d","type":"temporal","axis":null,"scale":{"domain":["2020-09-16","2026-06-14"],"nice":false}},
"y":{"datum":100,"scale":{"domain":[22.84,100],"range":[825,700],"nice":false,"zero":false},"axis":null},"y2":{"datum":22.84},"stroke":{"condition":{"test":"utcmonth(time(datum.d)+345600000)%3==0","value":"#c6c6c6"},"value":"#e6e6e6"}}},
{"data":{"values":[{"p":100},{"p":90},{"p":80},{"p":60},{"p":40}]},"mark":{"type":"rule","stroke":"#cccccc","strokeDash":[3,3],"strokeWidth":1},"encoding":{
"x":{"datum":{"year":2020,"month":"nov","date":4},"type":"temporal","axis":null,"scale":{"domain":["2020-09-16","2026-06-14"],"nice":false}},"x2":{"datum":{"year":2026,"month":"apr","date":15}},
"y":{"field":"p","type":"quantitative","scale":{"domain":[22.84,100],"range":[825,700],"nice":false,"zero":false},"axis":{"title":null,"orient":"right","values":[40,60,80,100],"labelPadding":-43,"grid":false,"ticks":false,"domain":false,"labelFont":"Roboto","labelFontSize":12,"labelColor":"#8d8d8d","labelBound":false,"labelFlush":false,"labelOverlap":false}}}},
{"data":{"values":[{"p":70}]},"mark":{"type":"rule","stroke":"#cf7be8","strokeWidth":1.2},"encoding":{"x":{"datum":{"year":2020,"month":"nov","date":4},"type":"temporal","axis":null,"scale":{"domain":["2020-09-16","2026-06-14"],"nice":false}},"x2":{"datum":{"year":2026,"month":"apr","date":15}},"y":{"field":"p","type":"quantitative","axis":null,"scale":{"domain":[22.84,100],"range":[825,700],"nice":false,"zero":false}}}},
{"data":{"values":[{"p":50}]},"mark":{"type":"rule","stroke":"#ee6b6b","strokeWidth":1,"strokeDash":[3,3]},"encoding":{"x":{"datum":{"year":2020,"month":"nov","date":4},"type":"temporal","axis":null,"scale":{"domain":["2020-09-16","2026-06-14"],"nice":false}},"x2":{"datum":{"year":2026,"month":"apr","date":15}},"y":{"field":"p","type":"quantitative","axis":null,"scale":{"domain":[22.84,100],"range":[825,700],"nice":false,"zero":false}}}},
{"data":{"values":[{"p":30}]},"mark":{"type":"rule","stroke":"#62b5e8","strokeWidth":1.2},"encoding":{"x":{"datum":{"year":2020,"month":"nov","date":4},"type":"temporal","axis":null,"scale":{"domain":["2020-09-16","2026-06-14"],"nice":false}},"x2":{"datum":{"year":2026,"month":"apr","date":15}},"y":{"field":"p","type":"quantitative","axis":null,"scale":{"domain":[22.84,100],"range":[825,700],"nice":false,"zero":false}}}},
{"data":{"name":"weeks"},
"encoding":{"x":{"field":"d","type":"temporal","axis":null,"scale":{"domain":["2020-09-16","2026-06-14"],"nice":false}}},
"layer":[
{"mark":{"type":"rule","strokeWidth":1},"encoding":{"y":{"field":"l","type":"quantitative","axis":null,"scale":{"domain":[200,650],"range":[655.7,57.3],"nice":false,"zero":false}},"y2":{"field":"h"},"stroke":{"condition":{"test":"datum.c<datum.o","value":"#dc1f30"},"value":"#0f8f3a"}}},
{"mark":{"type":"bar","size":5,"orient":"vertical"},"encoding":{"y":{"field":"o","type":"quantitative","axis":null},"y2":{"field":"c"},"fill":{"condition":{"test":"datum.c<datum.o","value":"#dc1f30"},"value":"#0f8f3a"}}},
{"mark":{"type":"line","stroke":"#f7bde9","strokeWidth":1.3},"encoding":{"y":{"field":"a","type":"quantitative","axis":null}}},
{"mark":{"type":"line","stroke":"#ffab72","strokeWidth":1.3},"encoding":{"y":{"field":"b","type":"quantitative","axis":null}}},
{"mark":{"type":"line","stroke":"#f8e3b4","strokeWidth":1.5},"encoding":{"y":{"field":"e","type":"quantitative","axis":null}}},
{"mark":{"type":"line","stroke":"#0ea50e","strokeWidth":1.2},"encoding":{"y":{"field":"up","type":"quantitative","axis":null}}},
{"mark":{"type":"line","stroke":"#c91414","strokeWidth":1.2},"encoding":{"y":{"field":"dn","type":"quantitative","axis":null}}}
]},
{"data":{"name":"weeks"},"mark":{"type":"bar","size":5,"orient":"vertical","opacity":0.42},
"encoding":{"x":{"field":"d","type":"temporal","axis":null,"scale":{"domain":["2020-09-16","2026-06-14"],"nice":false}},
"y":{"field":"v","type":"quantitative","scale":{"domain":[0,400],"range":[655.7,595.7],"nice":false},"axis":{"title":null,"orient":"left","values":[100,200,300,400],"labelExpr":"datum.value+'M'","labelPadding":-36,"grid":false,"ticks":false,"domain":false,"labelFont":"Roboto","labelFontSize":12,"labelColor":"#8d8d8d","labelBound":false,"labelFlush":false,"labelOverlap":false}},
"fill":{"condition":{"test":"datum.c<datum.o","value":"#e8354a"},"value":"#1d9a45"}}},
{"data":{"name":"weeks"},
"encoding":{"x":{"field":"d","type":"temporal","axis":null,"scale":{"domain":["2020-09-16","2026-06-14"],"nice":false}}},
"layer":[
{"transform":[{"filter":"datum.r<30"}],"mark":{"type":"area","fill":"#62b5e8"},"encoding":{"y":{"field":"r","type":"quantitative","axis":null,"scale":{"domain":[22.84,100],"range":[825,700],"nice":false,"zero":false}},"y2":{"datum":30}}},
{"mark":{"type":"line","stroke":"#111111","strokeWidth":1},"encoding":{"y":{"field":"r","type":"quantitative","axis":null}}}
]},
{"data":{"name":"one"},"layer":[
{"mark":{"type":"rect","fill":"#ffffff"},"encoding":{"x":{"datum":1300,"axis":null,"scale":{"domain":[0,1798],"nice":false,"zero":false}},"x2":{"datum":1400},"y":{"datum":3,"axis":null,"scale":{"domain":[825,0],"nice":false,"zero":false}},"y2":{"datum":56.5}}},
{"mark":{"type":"rect","fill":"#ffffff"},"encoding":{"x":{"datum":6,"axis":null},"x2":{"datum":371},"y":{"datum":57,"axis":null},"y2":{"datum":72}}},
{"mark":{"type":"rect","fill":"#ffffff"},"encoding":{"x":{"datum":6,"axis":null},"x2":{"datum":119},"y":{"datum":72,"axis":null},"y2":{"datum":108}}},
{"mark":{"type":"rect","fill":"#ffffff"},"encoding":{"x":{"datum":6,"axis":null},"x2":{"datum":141},"y":{"datum":108,"axis":null},"y2":{"datum":143}}},
{"mark":{"type":"rect","fill":"#ffffff"},"encoding":{"x":{"datum":6,"axis":null},"x2":{"datum":123},"y":{"datum":690,"axis":null},"y2":{"datum":716}}},
{"mark":{"type":"rect","fill":"#2a7de1"},"encoding":{"x":{"datum":0,"axis":null},"x2":{"datum":1798},"y":{"datum":0,"axis":null},"y2":{"datum":2}}},
{"mark":{"type":"rect","fill":"#e1e3e8"},"encoding":{"x":{"datum":0,"axis":null},"x2":{"datum":4},"y":{"datum":3,"axis":null},"y2":{"datum":815}}},
{"mark":{"type":"rect","fill":"#5a9fe8"},"encoding":{"x":{"datum":5.5,"axis":null},"x2":{"datum":6.5},"y":{"datum":2,"axis":null},"y2":{"datum":815}}},
{"mark":{"type":"rect","fill":"#5a9fe8"},"encoding":{"x":{"datum":1795,"axis":null},"x2":{"datum":1796},"y":{"datum":2,"axis":null},"y2":{"datum":825}}},
{"mark":{"type":"rect","fill":"#dcdde0"},"encoding":{"x":{"datum":6,"axis":null},"x2":{"datum":1795},"y":{"datum":46,"axis":null},"y2":{"datum":47}}},
{"mark":{"type":"rect","fill":"#dcdde0"},"encoding":{"x":{"datum":6,"axis":null},"x2":{"datum":1795},"y":{"datum":684,"axis":null},"y2":{"datum":685}}},
{"mark":{"type":"rect","fill":"#ffffff","stroke":"#ccd0d5","cornerRadius":6},"encoding":{"x":{"datum":15.5,"axis":null},"x2":{"datum":142.5},"y":{"datum":9.5,"axis":null},"y2":{"datum":40.5}}},
{"mark":{"type":"rect","fill":"#f0f1f3","cornerRadius":6},"encoding":{"x":{"datum":151,"axis":null},"x2":{"datum":183},"y":{"datum":9,"axis":null},"y2":{"datum":41}}},
{"mark":{"type":"rect","fill":"#f0f1f3","cornerRadius":6},"encoding":{"x":{"datum":512,"axis":null},"x2":{"datum":544},"y":{"datum":9,"axis":null},"y2":{"datum":41}}},
{"mark":{"type":"rect","fill":"#c9cdd4","cornerRadius":7},"encoding":{"x":{"datum":438,"axis":null},"x2":{"datum":472},"y":{"datum":7.5,"axis":null},"y2":{"datum":42.5}}},
{"mark":{"type":"rect","fill":"#e8f3fe","stroke":"#4d9be8","strokeWidth":1,"cornerRadius":6},"encoding":{"x":{"datum":440,"axis":null},"x2":{"datum":470},"y":{"datum":9.5,"axis":null},"y2":{"datum":40.5}}},
{"mark":{"type":"rect","fill":"#333333"},"encoding":{"x":{"datum":161,"axis":null},"x2":{"datum":173},"y":{"datum":28,"axis":null},"y2":{"datum":29.5}}},
{"mark":{"type":"rect","fill":"#333333"},"encoding":{"x":{"datum":161,"axis":null},"x2":{"datum":162.5},"y":{"datum":25,"axis":null},"y2":{"datum":29.5}}},
{"mark":{"type":"rect","fill":"#333333"},"encoding":{"x":{"datum":171.5,"axis":null},"x2":{"datum":173},"y":{"datum":25,"axis":null},"y2":{"datum":29.5}}},
{"mark":{"type":"rect","fill":"#f0f1f3","stroke":"#222222","strokeWidth":1.4,"cornerRadius":2},"encoding":{"x":{"datum":522.5,"axis":null},"x2":{"datum":533.5},"y":{"datum":20,"axis":null},"y2":{"datum":31}}},
{"mark":{"type":"rect","fill":"#222222"},"encoding":{"x":{"datum":522.5,"axis":null},"x2":{"datum":533.5},"y":{"datum":20,"axis":null},"y2":{"datum":23}}},
{"mark":{"type":"rect","fill":"#222222"},"encoding":{"x":{"datum":525,"axis":null},"x2":{"datum":531},"y":{"datum":26,"axis":null},"y2":{"datum":27.2}}},
{"mark":{"type":"text","style":"tool","text":"UNH","align":"left","fill":"#111111","fontSize":15,"fontWeight":400},"encoding":{"x":{"datum":26,"axis":null},"y":{"datum":26,"axis":null}}},
{"mark":{"type":"text","style":"tool","text":"•••","fill":"#777777","fontSize":9},"encoding":{"x":{"datum":127,"axis":null},"y":{"datum":25,"axis":null}}},
{"mark":{"type":"text","style":"tool","text":"1M","fill":"#5f6b7a"},"encoding":{"x":{"datum":210,"axis":null},"y":{"datum":25,"axis":null}}},
{"mark":{"type":"text","style":"tool","text":"5M","fill":"#5f6b7a"},"encoding":{"x":{"datum":250,"axis":null},"y":{"datum":25,"axis":null}}},
{"mark":{"type":"text","style":"tool","text":"15M","fill":"#5f6b7a"},"encoding":{"x":{"datum":295,"axis":null},"y":{"datum":25,"axis":null}}},
{"mark":{"type":"text","style":"tool","text":"30M","fill":"#5f6b7a"},"encoding":{"x":{"datum":343,"axis":null},"y":{"datum":25,"axis":null}}},
{"mark":{"type":"text","style":"tool","text":"1H","fill":"#5f6b7a"},"encoding":{"x":{"datum":387,"axis":null},"y":{"datum":25,"axis":null}}},
{"mark":{"type":"text","style":"tool","text":"D","fill":"#5f6b7a"},"encoding":{"x":{"datum":422,"axis":null},"y":{"datum":25,"axis":null}}},
{"mark":{"type":"text","style":"tool","text":"W","fill":"#111111"},"encoding":{"x":{"datum":455,"axis":null},"y":{"datum":25,"axis":null}}},
{"mark":{"type":"text","style":"tool","text":"M","fill":"#7c8794"},"encoding":{"x":{"datum":488,"axis":null},"y":{"datum":25,"axis":null}}},
{"mark":{"type":"text","style":"lg","text":"Apr 15","fill":"#a4a9b5"},"encoding":{"x":{"datum":20,"axis":null},"y":{"datum":63,"axis":null}}},
{"mark":{"type":"text","style":"lg","text":"O","fill":"#a4a9b5"},"encoding":{"x":{"datum":69,"axis":null},"y":{"datum":63,"axis":null}}},
{"mark":{"type":"text","style":"lg","text":"316.00","fill":"#ef3a4a"},"encoding":{"x":{"datum":78,"axis":null},"y":{"datum":63,"axis":null}}},
{"mark":{"type":"text","style":"lg","text":"H","fill":"#a4a9b5"},"encoding":{"x":{"datum":130,"axis":null},"y":{"datum":63,"axis":null}}},
{"mark":{"type":"text","style":"lg","text":"317.76","fill":"#ef3a4a"},"encoding":{"x":{"datum":139,"axis":null},"y":{"datum":63,"axis":null}}},
{"mark":{"type":"text","style":"lg","text":"L","fill":"#a4a9b5"},"encoding":{"x":{"datum":191,"axis":null},"y":{"datum":63,"axis":null}}},
{"mark":{"type":"text","style":"lg","text":"311.14","fill":"#ef3a4a"},"encoding":{"x":{"datum":198,"axis":null},"y":{"datum":63,"axis":null}}},
{"mark":{"type":"text","style":"lg","text":"C","fill":"#a4a9b5"},"encoding":{"x":{"datum":250,"axis":null},"y":{"datum":63,"axis":null}}},
{"mark":{"type":"text","style":"lg","text":"314.05","fill":"#ef3a4a"},"encoding":{"x":{"datum":258,"axis":null},"y":{"datum":63,"axis":null}}},
{"mark":{"type":"text","style":"lg","text":"Vol","fill":"#a4a9b5"},"encoding":{"x":{"datum":310,"axis":null},"y":{"datum":63,"axis":null}}},
{"mark":{"type":"text","style":"lg","text":"18.88M","fill":"#ef3a4a"},"encoding":{"x":{"datum":327,"axis":null},"y":{"datum":63,"axis":null}}},
{"mark":{"type":"text","style":"lg","text":"SMA 20  ·  306.93","fill":"#f9c7ec"},"encoding":{"x":{"datum":20,"axis":null},"y":{"datum":81,"axis":null}}},
{"mark":{"type":"text","style":"lg","text":"SMA 50  ·  312.85","fill":"#ffab72"},"encoding":{"x":{"datum":20,"axis":null},"y":{"datum":99,"axis":null}}},
{"mark":{"type":"text","style":"lg","text":"SMA 200  ·  465.68","fill":"#f5e3b0"},"encoding":{"x":{"datum":20,"axis":null},"y":{"datum":117,"axis":null}}},
{"mark":{"type":"text","style":"lg","text":"Supertrend 7,3","fill":"#1aa81a","fontSize":11},"encoding":{"x":{"datum":20,"axis":null},"y":{"datum":135,"axis":null}}},
{"mark":{"type":"text","style":"lg","text":"·","fill":"#888888"},"encoding":{"x":{"datum":101,"axis":null},"y":{"datum":135,"axis":null}}},
{"mark":{"type":"text","style":"lg","text":"331.09","fill":"#e02020"},"encoding":{"x":{"datum":108,"axis":null},"y":{"datum":135,"axis":null}}},
{"mark":{"type":"text","style":"chg","text":"-0.14 (0.04%)","fill":"#f25a64"},"encoding":{"x":{"datum":1787,"axis":null},"y":{"datum":17,"axis":null}}},
{"mark":{"type":"text","style":"chg","text":"-0.38 (0.12%)","fill":"#f25a64"},"encoding":{"x":{"datum":1787,"axis":null},"y":{"datum":33,"axis":null}}},
{"mark":{"type":"point","filled":true,"fill":"#9a84f0","opacity":1,"size":85},"encoding":{"x":{"datum":1697,"axis":null},"y":{"datum":33,"axis":null}}},
{"mark":{"type":"point","filled":true,"fill":"#ffffff","opacity":1,"size":58},"encoding":{"x":{"datum":1700,"axis":null},"y":{"datum":31.5,"axis":null}}},
{"mark":{"type":"rect","fill":"#f3f4f6","cornerRadius":6},"encoding":{"x":{"datum":16,"axis":null},"x2":{"datum":73},"y":{"datum":691,"axis":null},"y2":{"datum":716}}},
{"mark":{"type":"text","style":"lg","text":"RSI 14","fill":"#222222","fontSize":13},"encoding":{"x":{"datum":23,"axis":null},"y":{"datum":704,"axis":null}}},
{"mark":{"type":"text","style":"lg","text":"51.14","fill":"#333333","fontSize":13},"encoding":{"x":{"datum":87,"axis":null},"y":{"datum":704,"axis":null}}},
{"mark":{"type":"rect","fill":"#fff200"},"encoding":{"x":{"datum":1753,"axis":null},"x2":{"datum":1790},"y":{"datum":496,"axis":null},"y2":{"datum":508}}},
{"mark":{"type":"text","style":"tag","text":"314.05","fill":"#222222"},"encoding":{"x":{"datum":1771.5,"axis":null},"y":{"datum":502,"axis":null}}},
{"mark":{"type":"rect","fill":"#c7c3f3"},"encoding":{"x":{"datum":1753,"axis":null},"x2":{"datum":1790},"y":{"datum":508,"axis":null},"y2":{"datum":520}}},
{"mark":{"type":"text","style":"tag","text":"313.67","fill":"#222222"},"encoding":{"x":{"datum":1771.5,"axis":null},"y":{"datum":514,"axis":null}}},
{"mark":{"type":"rect","fill":"#454a5e"},"encoding":{"x":{"datum":1753,"axis":null},"x2":{"datum":1786},"y":{"datum":773,"axis":null},"y2":{"datum":785}}},
{"mark":{"type":"text","style":"tag","text":"51.14","fill":"#ffffff"},"encoding":{"x":{"datum":1769.5,"axis":null},"y":{"datum":779,"axis":null}}}
]}
],
"resolve":{"scale":{"x":"independent","y":"independent"},"axis":{"x":"independent","y":"independent"}}}
